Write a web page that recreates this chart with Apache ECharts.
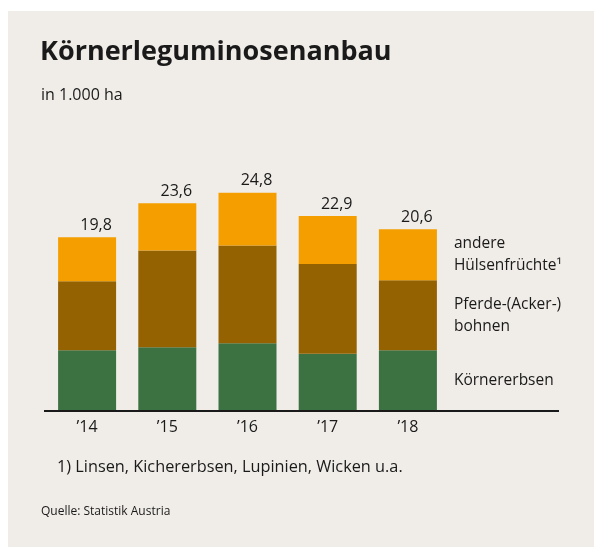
<!DOCTYPE html>
<html>
<head>
<meta charset="utf-8">
<script src="https://cdn.jsdelivr.net/npm/echarts@6/dist/echarts.min.js"></script>
<style>
  html, body { margin: 0; padding: 0; background: #f0ede8; overflow: hidden; }
  #chart { width: 594px; height: 547px; }
</style>
</head>
<body>
<div id="chart"></div>
<script>
// values in 1.000 ha
const years = ['’14', '’15', '’16', '’17', '’18'];
const totals = [19.8, 23.6, 24.8, 22.9, 20.6];
const erbsen = [6.9, 7.25, 7.7, 6.5, 6.9];
const bohnen = [7.85, 11.0, 11.1, 10.2, 7.95];
const andere = [5.0, 5.35, 6.0, 5.45, 5.8];
const legendNames = ['Körnererbsen', 'Pferde-(Acker-)\nbohnen', 'andere\nHülsenfrüchte¹'];

const font = '"Open Sans", Lato, sans-serif';
const ink = '#1a1a1a';

const fmt = (v) => v.toFixed(1).replace('.', ',');

// segment name goes to the right of the last bar
const withEndLabel = (values, name) =>
  values.map((v, i) => (i === values.length - 1
    ? {
        value: v,
        label: {
          show: true,
          position: 'right',
          distance: 17,
          formatter: name,
          color: ink,
          fontFamily: font,
          fontSize: 15.5,
          lineHeight: 22,
          align: 'left'
        }
      }
    : v));

const chart = echarts.init(document.getElementById('chart'));

chart.setOption({
  animation: false,
  backgroundColor: '#ffffff',
  graphic: [
    { type: 'rect', z: -10, shape: { x: 8, y: 11, width: 600, height: 560 }, style: { fill: '#f0ede8' } },
    { type: 'text', left: 40, top: 39, style: { text: 'Körnerleguminosenanbau', font: `bold 27px ${font}`, fill: ink } },
    { type: 'text', left: 41, top: 87, style: { text: 'in 1.000 ha', font: `16px ${font}`, fill: ink } },
    { type: 'line', z: 20, shape: { x1: 44, y1: 411, x2: 559, y2: 411 }, style: { stroke: ink, lineWidth: 2 } },
    { type: 'text', left: 57, top: 459, style: { text: '1) Linsen, Kichererbsen, Lupinien, Wicken u.a.', font: `16.3px ${font}`, fill: ink } },
    { type: 'text', left: 41, top: 506, style: { text: 'Quelle: Statistik Austria', font: `12px ${font}`, fill: ink } }
  ],
  grid: { left: 47, width: 401, top: 191, bottom: 136 },
  xAxis: {
    type: 'category',
    data: years,
    axisLine: { show: false },
    axisTick: { show: false },
    axisLabel: { color: ink, fontFamily: font, fontSize: 16, margin: 8 }
  },
  yAxis: {
    type: 'value',
    min: 0,
    max: 25,
    show: false,
    splitLine: { show: false }
  },
  series: [
    {
      name: 'Körnererbsen',
      type: 'bar',
      stack: 'a',
      barWidth: 58,
      itemStyle: { color: '#3c7142' },
      data: withEndLabel(erbsen, legendNames[0])
    },
    {
      name: 'Pferde-(Acker-)bohnen',
      type: 'bar',
      stack: 'a',
      barWidth: 58,
      itemStyle: { color: '#946200' },
      data: withEndLabel(bohnen, legendNames[1])
    },
    {
      name: 'andere Hülsenfrüchte',
      type: 'bar',
      stack: 'a',
      barWidth: 58,
      itemStyle: { color: '#f59e00' },
      data: withEndLabel(andere, legendNames[2])
    },
    {
      // zero-height cap on the stack, carries the total above each bar
      name: 'Summe',
      type: 'bar',
      stack: 'a',
      barWidth: 58,
      silent: true,
      itemStyle: { color: 'transparent' },
      data: totals.map(() => 0),
      label: {
        show: true,
        position: 'top',
        distance: 4,
        offset: [9, 0],
        color: ink,
        fontFamily: font,
        fontSize: 16,
        formatter: (p) => fmt(totals[p.dataIndex])
      }
    }
  ]
});
</script>
</body>
</html>
